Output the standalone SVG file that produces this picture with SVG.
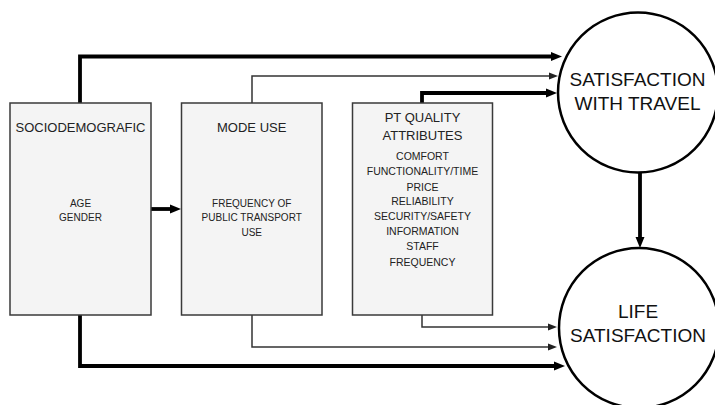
<svg xmlns="http://www.w3.org/2000/svg" width="715" height="405" viewBox="0 0 715 405">
  <style>
    .box { fill: #f4f4f4; stroke: #3a3a3a; stroke-width: 1.5; }
    .circ { fill: #ffffff; stroke: #000000; stroke-width: 2.5; }
    .thick { fill: none; stroke: #000000; stroke-width: 3.8; }
    .thin { fill: none; stroke: #333333; stroke-width: 1.5; }
    text { font-family: "Liberation Sans", Arial, sans-serif; fill: #222222; text-anchor: middle; }
    .title { font-size: 13px; }
    .sub { font-size: 10px; }
    .attr { font-size: 10.5px; }
    .big { font-size: 19px; fill: #111111; }
  </style>
  <defs>
    <marker id="ahThick" markerUnits="userSpaceOnUse" markerWidth="11" markerHeight="10" refX="0" refY="5" orient="auto">
      <path d="M0,0.5 L11,5 L0,9.5 z" fill="#000"/>
    </marker>
    <marker id="ahThin" markerUnits="userSpaceOnUse" markerWidth="9" markerHeight="8" refX="0" refY="4" orient="auto">
      <path d="M0,0.5 L9,4 L0,7.5 z" fill="#222"/>
    </marker>
  </defs>

  <g id="connectors">
    <path class="thick" d="M80,103 V56.5 H551" marker-end="url(#ahThick)"/>
    <path class="thin" d="M252,103 V76 H549" marker-end="url(#ahThin)"/>
    <path class="thick" d="M422,103 V93 H546" marker-end="url(#ahThick)"/>
    <path class="thick" d="M151,209 H170" marker-end="url(#ahThick)"/>
    <path class="thin" d="M422,315 V327 H548" marker-end="url(#ahThin)"/>
    <path class="thin" d="M252,315 V347 H548" marker-end="url(#ahThin)"/>
    <path class="thick" d="M80,315 V366 H554" marker-end="url(#ahThick)"/>
    <path class="thick" d="M640,173 V237" marker-end="url(#ahThick)"/>
  </g>

  <g id="sociodemografic">
    <rect class="box" x="10" y="103" width="141" height="212"/>
    <text class="title" x="80.5" y="131.5">SOCIODEMOGRAFIC</text>
    <text class="sub" x="80.5" y="206.5">AGE</text>
    <text class="sub" x="80.5" y="221">GENDER</text>
  </g>

  <g id="mode-use">
    <rect class="box" x="181.5" y="103" width="140.5" height="212"/>
    <text class="title" x="251.7" y="131.5">MODE USE</text>
    <text class="sub" x="251.7" y="206.5">FREQUENCY OF</text>
    <text class="sub" x="251.7" y="221">PUBLIC TRANSPORT</text>
    <text class="sub" x="251.7" y="235.5">USE</text>
  </g>

  <g id="pt-quality">
    <rect class="box" x="352.5" y="103" width="140" height="212"/>
    <text class="title" x="422.5" y="121.5">PT QUALITY</text>
    <text class="title" x="422.5" y="140">ATTRIBUTES</text>
    <text class="attr" x="422.5" y="159.5">COMFORT</text>
    <text class="attr" x="422.5" y="175">FUNCTIONALITY/TIME</text>
    <text class="attr" x="422.5" y="190.5">PRICE</text>
    <text class="attr" x="422.5" y="205">RELIABILITY</text>
    <text class="attr" x="422.5" y="220">SECURITY/SAFETY</text>
    <text class="attr" x="422.5" y="235">INFORMATION</text>
    <text class="attr" x="422.5" y="250">STAFF</text>
    <text class="attr" x="422.5" y="265.5">FREQUENCY</text>
  </g>

  <g id="satisfaction-travel">
    <circle class="circ" cx="638" cy="92.5" r="80"/>
    <text class="big" x="637.5" y="86">SATISFACTION</text>
    <text class="big" x="637.5" y="110">WITH TRAVEL</text>
  </g>

  <g id="life-satisfaction">
    <circle class="circ" cx="639" cy="328" r="80"/>
    <text class="big" x="638" y="318">LIFE</text>
    <text class="big" x="638" y="342">SATISFACTION</text>
  </g>
</svg>
